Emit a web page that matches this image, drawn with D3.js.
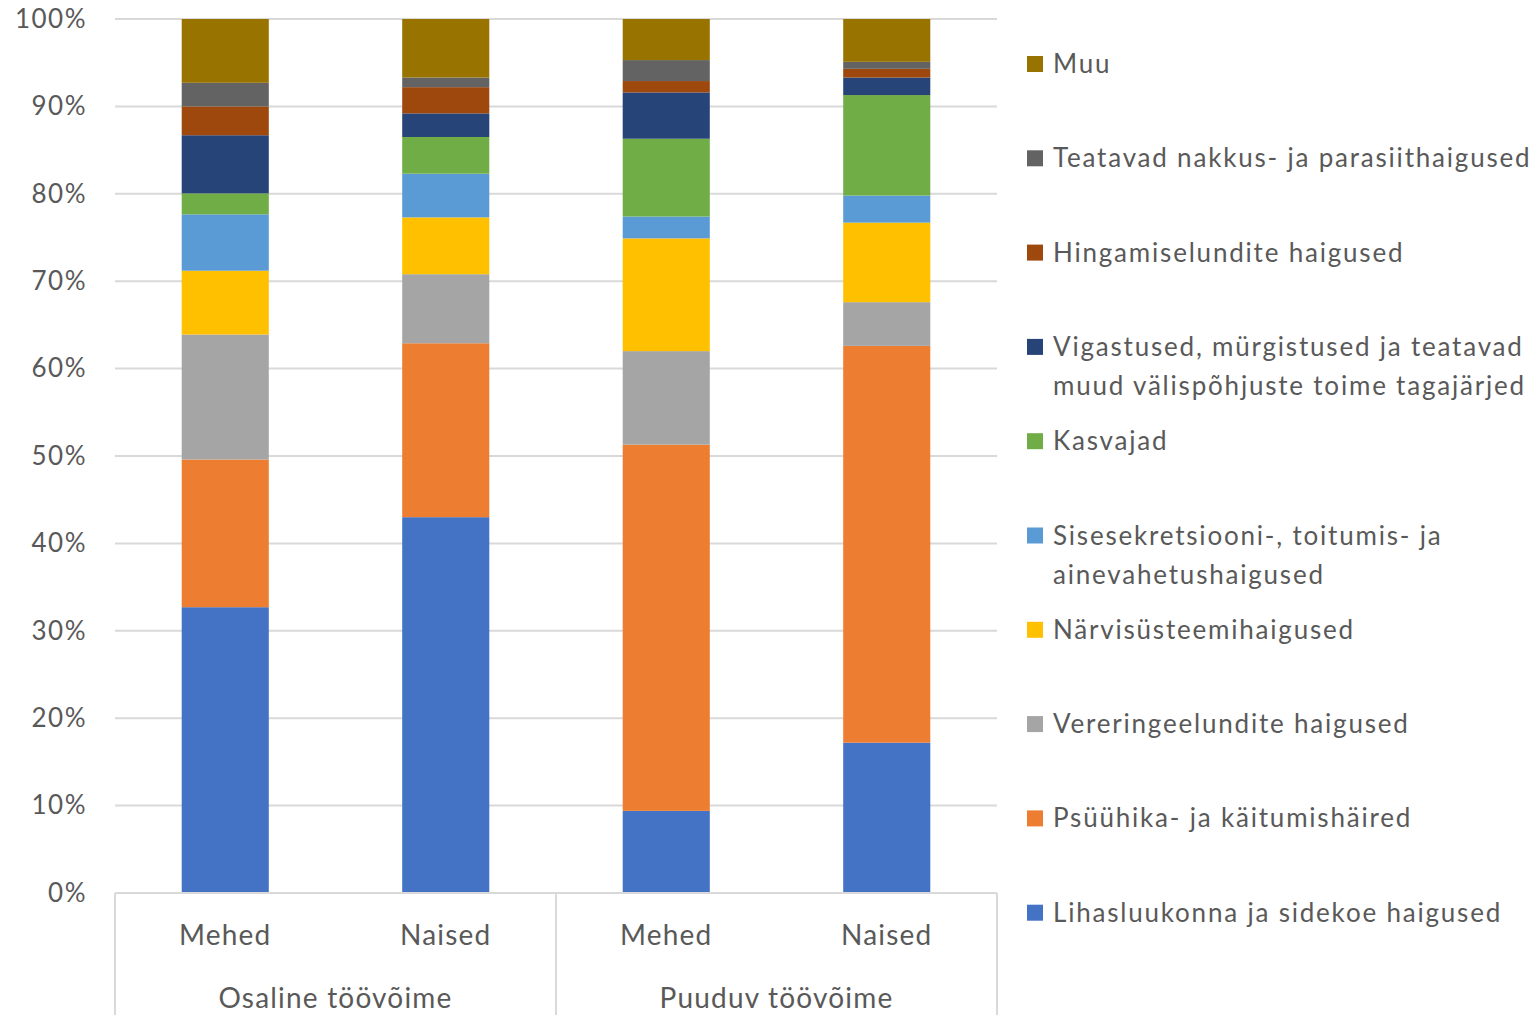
<!DOCTYPE html>
<html><head><meta charset="utf-8">
<script src="https://cdn.jsdelivr.net/npm/d3@7"></script>
<style>body{margin:0;background:#fff}svg{display:block}</style>
</head><body>
<svg id="chart" width="1534" height="1015"></svg>
<script>
const groups = ["Osaline töövõime","Puuduv töövõime"];
const categories = ["Mehed","Naised","Mehed","Naised"];
const seriesNames = ["Lihasluukonna ja sidekoe haigused","Psüühika- ja käitumishäired","Vereringeelundite haigused","Närvisüsteemihaigused","Sisesekretsiooni-, toitumis- ja ainevahetushaigused","Kasvajad","Vigastused, mürgistused ja teatavad muud välispõhjuste toime tagajärjed","Hingamiselundite haigused","Teatavad nakkus- ja parasiithaigused","Muu"];
const legendLines = [["Lihasluukonna ja sidekoe haigused"],["Psüühika- ja käitumishäired"],["Vereringeelundite haigused"],["Närvisüsteemihaigused"],["Sisesekretsiooni-, toitumis- ja","ainevahetushaigused"],["Kasvajad"],["Vigastused, mürgistused ja teatavad","muud välispõhjuste toime tagajärjed"],["Hingamiselundite haigused"],["Teatavad nakkus- ja parasiithaigused"],["Muu"]];
const colors = ["#4472C4","#ED7D31","#A5A5A5","#FFC000","#5B9BD5","#70AD47","#264478","#9E480E","#636363","#997300"];
const lihas    = [32.7, 43.0,  9.4, 17.2];
const psyyhika = [16.9, 19.9, 41.9, 45.4];
const verer    = [14.3,  7.9, 10.7,  5.0];
const narvi    = [ 7.3,  6.5, 12.9,  9.1];
const sise     = [ 6.45, 5.0,  2.5,  3.1];
const kasvajad = [ 2.4,  4.2,  8.9, 11.5];
const vigast   = [ 6.65, 2.7,  5.3,  2.0];
const hingam   = [ 3.3,  3.0,  1.3,  1.0];
const teatavad = [ 2.7,  1.1,  2.4,  0.8];
const muu      = [ 7.3,  6.7,  4.7,  4.9];
const yTicks = [0,10,20,30,40,50,60,70,80,90,100];

const values = [lihas,psyyhika,verer,narvi,sise,kasvajad,vigast,hingam,teatavad,muu];
const rows = categories.map((c,i)=>{const r={idx:i}; seriesNames.forEach((s,k)=>r[s]=values[k][i]); return r;});
const stacked = d3.stack().keys(seriesNames)(rows);

const svg = d3.select("#chart");
const font = "Lato, 'Open Sans', sans-serif";
const textColor = "#595959";
const pLeft=115, pRight=997, pTop=19, pBottom=893;
const x = d3.scaleBand().domain(d3.range(categories.length)).range([pLeft,pRight]).paddingInner(0.605).paddingOuter(0.3025);
const y = d3.scaleLinear().domain([0,100]).range([pBottom,pTop]);

// gridlines
svg.append("g").selectAll("line").data(yTicks).join("line")
  .attr("x1",pLeft).attr("x2",pRight).attr("y1",d=>y(d)).attr("y2",d=>y(d))
  .attr("stroke","#d9d9d9").attr("stroke-width",2);

// y labels
const yAxis = d3.axisLeft(y).tickValues(yTicks).tickFormat(d=>d+"%").tickSize(0).tickPadding(28);
const ya = svg.append("g").attr("transform",`translate(${pLeft},0)`).call(yAxis);
ya.select(".domain").remove();
ya.selectAll("text").attr("font-family",font).attr("font-size",26).attr("letter-spacing","1.5px").attr("fill",textColor);

// bars
svg.append("g").selectAll("g").data(stacked).join("g").attr("fill",(d,i)=>colors[i])
  .selectAll("rect").data(d=>d).join("rect")
  .attr("x",d=>x(d.data.idx)).attr("width",x.bandwidth())
  .attr("y",d=>y(d[1])).attr("height",d=>y(d[0])-y(d[1]));

// x axis line & separators
const ax = svg.append("g").attr("stroke","#d9d9d9").attr("stroke-width",2);
ax.append("line").attr("x1",pLeft).attr("x2",pRight).attr("y1",pBottom).attr("y2",pBottom);
const step = x.step();
[0,2,4].forEach(k=>{
  const xx = pLeft + k*step;
  ax.append("line").attr("x1",xx).attr("x2",xx).attr("y1",pBottom).attr("y2",1015);
});
svg.append("g").selectAll("text").data(categories).join("text")
  .attr("x",(d,i)=>x(i)+x.bandwidth()/2).attr("y",945).attr("text-anchor","middle")
  .attr("font-family",font).attr("font-size",28).attr("letter-spacing","1.2px").attr("fill",textColor).text(d=>d);
svg.append("g").selectAll("text").data(groups).join("text")
  .attr("x",(d,i)=>pLeft+step*(2*i+1)).attr("y",1008).attr("text-anchor","middle")
  .attr("font-family",font).attr("font-size",28).attr("letter-spacing","1.2px").attr("fill",textColor).text(d=>d);

// legend (top = Muu)
const legendOrder = d3.range(seriesNames.length).reverse();
const lg = svg.append("g");
legendOrder.forEach((si,j)=>{
  const cy = 64 + j*94.3;
  lg.append("rect").attr("x",1027).attr("y",cy-8).attr("width",16).attr("height",16).attr("fill",colors[si]);
  legendLines[si].forEach((ln,l)=>{
    lg.append("text").attr("x",1053).attr("y",cy+9+l*39)
      .attr("font-family",font).attr("font-size",26).attr("letter-spacing","1.8px").attr("fill",textColor).text(ln);
  });
});
</script>
</body></html>
